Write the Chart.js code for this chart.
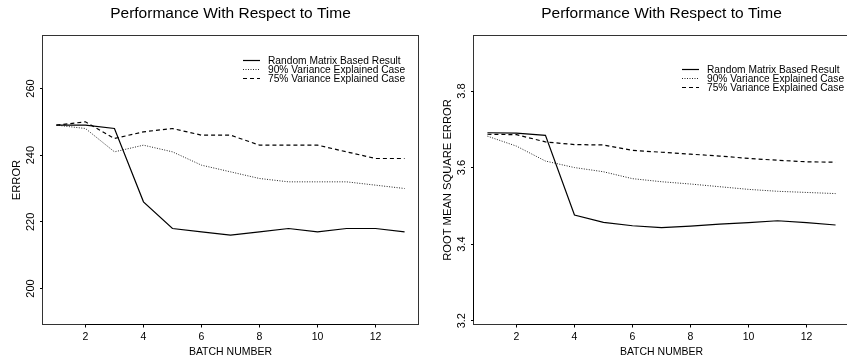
<!DOCTYPE html>
<html>
<head>
<meta charset="utf-8">
<script src="https://cdn.jsdelivr.net/npm/chart.js@4.4.1/dist/chart.umd.min.js"></script>
<style>
  html, body { margin: 0; padding: 0; background: #fff; }
  body { position: relative; width: 847px; height: 362px; overflow: hidden; }
  .panel { position: absolute; top: 0; width: 420px; height: 362px; }
  #left-panel { left: 0; }
  #right-panel { left: 431px; }
</style>
</head>
<body>
<div class="panel" id="left-panel"><canvas id="error-chart" width="420" height="362"></canvas></div>
<div class="panel" id="right-panel"><canvas id="rmse-chart" width="420" height="362"></canvas></div>
<script>
// ─── Data ───────────────────────────────────────────────────

const BATCHES = [1, 2, 3, 4, 5, 6, 7, 8, 9, 10, 11, 12, 13];
const SERIES_LABELS = [
  'Random Matrix Based Result',
  '90% Variance Explained Case',
  '75% Variance Explained Case',
];

// left panel: ERROR
const ERROR_RANDOM = [249, 249, 248, 226, 218, 217, 216, 217, 218, 217, 218, 218, 217];
const ERROR_VAR90  = [249, 248, 241, 243, 241, 237, 235, 233, 232, 232, 232, 231, 230];
const ERROR_VAR75  = [249, 250, 245, 247, 248, 246, 246, 243, 243, 243, 241, 239, 239];

// right panel: ROOT MEAN SQUARE ERROR
const RMSE_RANDOM = [3.691, 3.690, 3.684, 3.476, 3.457, 3.448, 3.443, 3.447, 3.452, 3.456, 3.461, 3.456, 3.450];
const RMSE_VAR90  = [3.682, 3.656, 3.617, 3.600, 3.589, 3.571, 3.563, 3.557, 3.550, 3.543, 3.538, 3.535, 3.532];
const RMSE_VAR75  = [3.687, 3.686, 3.667, 3.660, 3.659, 3.645, 3.640, 3.635, 3.630, 3.624, 3.619, 3.615, 3.614];

const X_TICKS = [2, 4, 6, 8, 10, 12];
const ERROR_TICKS = [200, 220, 240, 260];
const RMSE_TICKS = [3.2, 3.4, 3.6, 3.8];

// ─── Styles ─────────────────────────────────────────────────

const FONT = '"Liberation Sans", Arial, Helvetica, sans-serif';
const LINE_STYLES = [
  { borderColor: '#000', borderWidth: 1.2, borderDash: [] },
  { borderColor: '#222', borderWidth: 1, borderDash: [1, 1.5] },
  { borderColor: '#000', borderWidth: 1.2, borderDash: [4, 3] },
];

// ─── Frame / title / legend plugin ──────────────────────────

const framePlugin = {
  id: 'frame',
  afterDatasetsDraw(chart, args, opts) {
    const { ctx, chartArea: a, scales: { x, y } } = chart;
    ctx.save();

    // box round the plot
    ctx.strokeStyle = '#333';
    ctx.lineWidth = 1;
    ctx.setLineDash([]);
    ctx.strokeRect(a.left, a.top, a.right - a.left, a.bottom - a.top);

    // axis lines from first to last tick
    const xt = x.ticks, yt = y.ticks;
    ctx.strokeStyle = '#000';
    ctx.beginPath();
    ctx.moveTo(x.getPixelForValue(xt[0].value), a.bottom);
    ctx.lineTo(x.getPixelForValue(xt[xt.length - 1].value), a.bottom);
    ctx.moveTo(a.left, y.getPixelForValue(yt[0].value));
    ctx.lineTo(a.left, y.getPixelForValue(yt[yt.length - 1].value));
    ctx.stroke();

    // title over the plot
    ctx.fillStyle = '#000';
    ctx.font = '15.5px ' + FONT;
    ctx.textAlign = 'center';
    ctx.textBaseline = 'middle';
    ctx.fillText(opts.title, (a.left + a.right) / 2, 13.5);

    // legend inside the plot
    ctx.font = '11.6px ' + FONT;
    ctx.textAlign = 'left';
    chart.data.datasets.forEach((ds, i) => {
      const ly = a.top + opts.legendTop + i * 9;
      const lx = a.left + opts.legendLeft;
      ctx.strokeStyle = ds.borderColor;
      ctx.lineWidth = ds.borderWidth;
      ctx.setLineDash(ds.borderDash);
      ctx.beginPath();
      ctx.moveTo(lx, ly);
      ctx.lineTo(lx + 17, ly);
      ctx.stroke();
      const w = ctx.measureText(ds.label).width;
      ctx.fillText(ds.label, lx + 25, ly + 0.5, w * 0.88);
    });

    ctx.restore();
  },
};

// ─── Chart builder ──────────────────────────────────────────

function makeDatasets(seriesList) {
  return seriesList.map((values, i) => ({
    label: SERIES_LABELS[i],
    data: BATCHES.map((b, j) => ({ x: b, y: values[j] })),
    ...LINE_STYLES[i],
    fill: false,
    tension: 0,
    pointRadius: 0,
  }));
}

function renderPanel(canvasId, cfg) {
  const canvas = document.getElementById(canvasId);
  return new Chart(canvas, {
    type: 'line',
    data: { datasets: makeDatasets(cfg.series) },
    plugins: [framePlugin],
    options: {
      responsive: false,
      animation: false,
      devicePixelRatio: 1,
      layout: { padding: { top: 35.5, right: 1.5, bottom: 0, left: 0 } },
      plugins: {
        legend: { display: false },
        tooltip: { enabled: false },
        frame: { title: cfg.title, legendLeft: cfg.legendLeft, legendTop: cfg.legendTop },
      },
      scales: {
        x: {
          type: 'linear',
          min: 0.52,
          max: 13.48,
          afterBuildTicks: s => { s.ticks = X_TICKS.map(v => ({ value: v })); },
          afterFit: s => { s.height = 37.5; },
          border: { display: false },
          grid: { drawOnChartArea: false, drawTicks: true, tickLength: 3, color: '#000' },
          ticks: { color: '#000', padding: 3, font: { family: FONT, size: 10.5 } },
          title: {
            display: true,
            text: 'BATCH NUMBER',
            color: '#000',
            font: { family: FONT, size: 10.5 },
            padding: { top: 0, bottom: 3.7 },
          },
        },
        y: {
          type: 'linear',
          min: cfg.yMin,
          max: cfg.yMax,
          afterBuildTicks: s => { s.ticks = cfg.yTicks.map(v => ({ value: v })); },
          afterFit: s => { s.width = 42.5; },
          border: { display: false },
          grid: { drawOnChartArea: false, drawTicks: true, tickLength: 2.5, color: '#000' },
          ticks: {
            color: '#000',
            minRotation: 90,
            maxRotation: 90,
            crossAlign: 'center',
            padding: cfg.yTickPad,
            font: { family: FONT, size: 11 },
            callback: cfg.yFormat,
          },
          title: {
            display: true,
            text: cfg.yTitle,
            color: '#000',
            font: { family: FONT, size: 11.2 },
            padding: { top: cfg.yTitlePad, bottom: 0 },
          },
        },
      },
    },
  });
}

// ─── Init ───────────────────────────────────────────────────

renderPanel('error-chart', {
  title: 'Performance With Respect to Time',
  series: [ERROR_RANDOM, ERROR_VAR90, ERROR_VAR75],
  yMin: 189.2,
  yMax: 275.9,
  yTicks: ERROR_TICKS,
  yFormat: v => String(v),
  yTitle: 'ERROR',
  yTitlePad: 10,
  yTickPad: 0,
  legendLeft: 200.5,
  legendTop: 25,
});

renderPanel('rmse-chart', {
  title: 'Performance With Respect to Time',
  series: [RMSE_RANDOM, RMSE_VAR90, RMSE_VAR75],
  yMin: 3.190,
  yMax: 3.945,
  yTicks: RMSE_TICKS,
  yFormat: v => v.toFixed(1),
  yTitle: 'ROOT MEAN SQUARE ERROR',
  yTitlePad: 10.5,
  yTickPad: 1,
  legendLeft: 208.5,
  legendTop: 34,
});
</script>
</body>
</html>
